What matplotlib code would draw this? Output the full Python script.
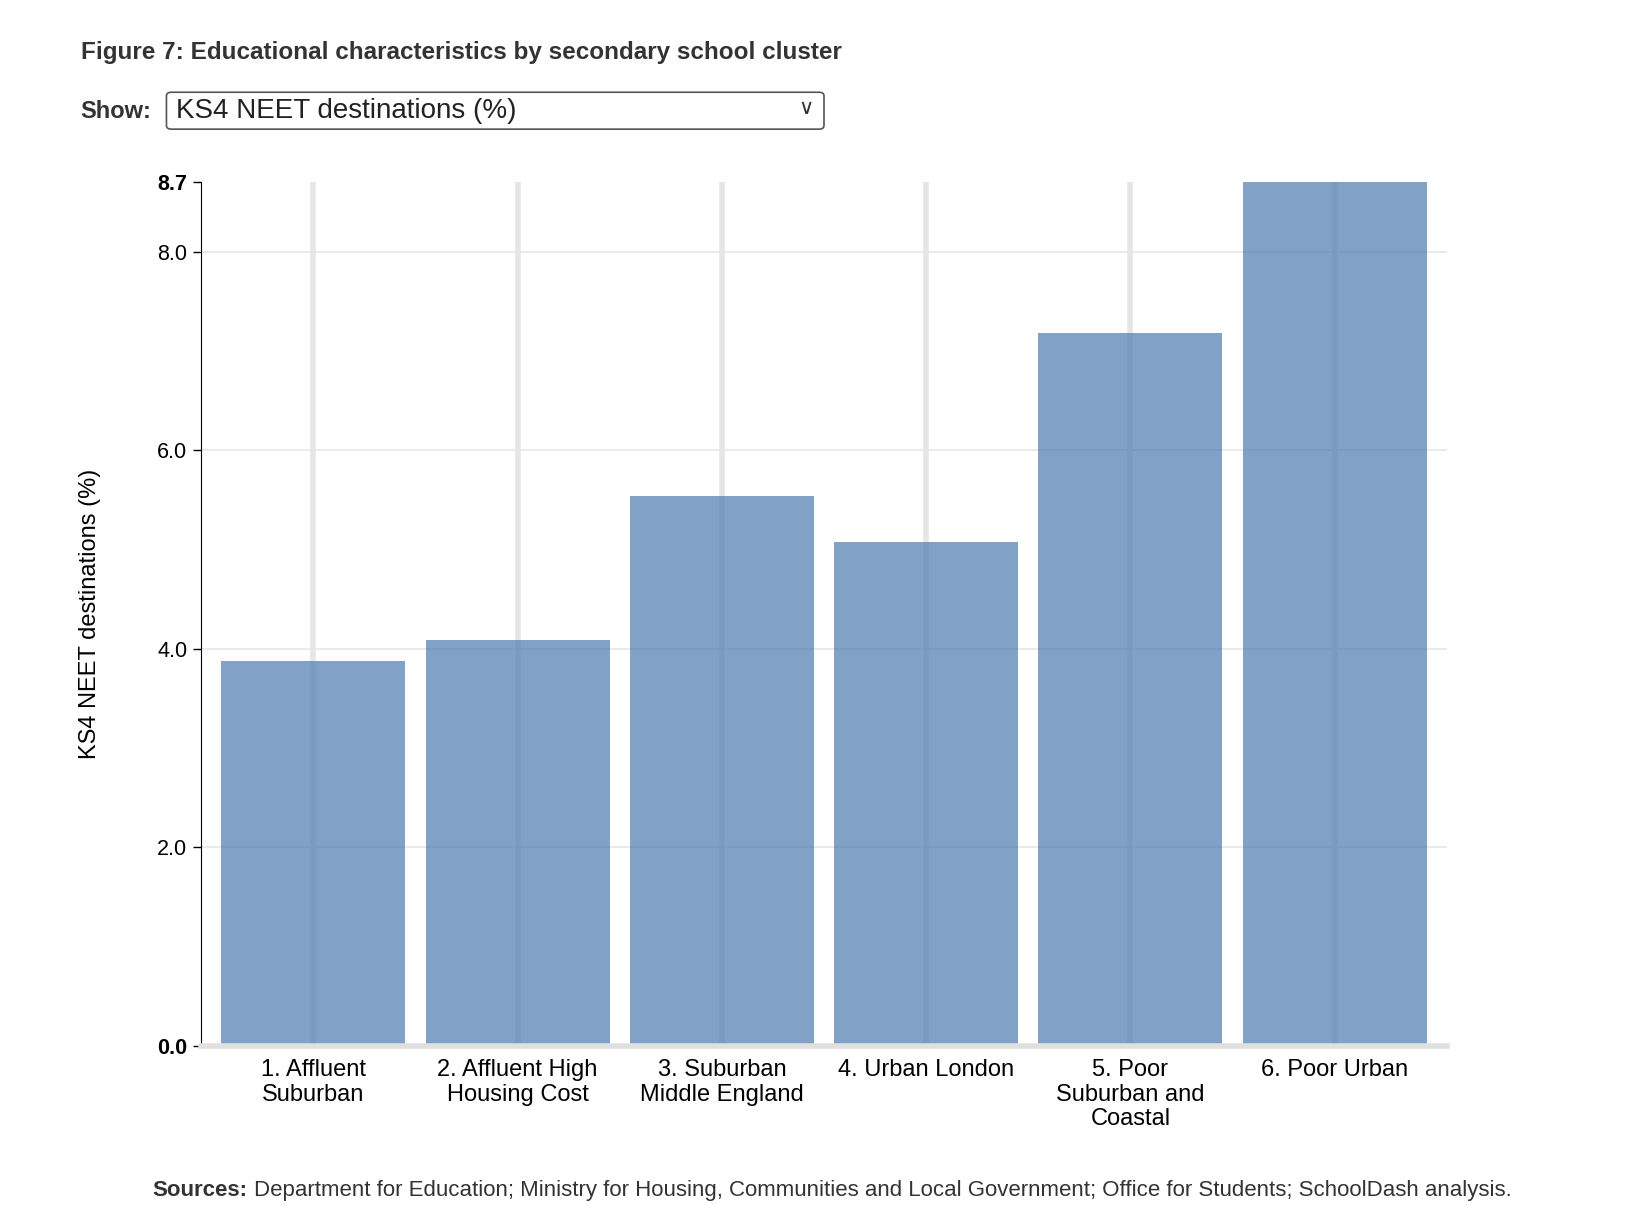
import matplotlib
matplotlib.use("Agg")
import matplotlib.pyplot as plt
from matplotlib.patches import FancyBboxPatch
from matplotlib.offsetbox import TextArea, HPacker, AnchoredOffsetbox

plt.rcParams['font.family'] = ['Liberation Sans', 'DejaVu Sans']

categories = ["1. Affluent\nSuburban", "2. Affluent High\nHousing Cost", "3. Suburban\nMiddle England",
              "4. Urban London", "5. Poor\nSuburban and\nCoastal", "6. Poor Urban"]
values = [3.87, 4.09, 5.54, 5.07, 7.18, 8.7]
yticks = [0.0, 2.0, 4.0, 6.0, 8.0, 8.7]

fig = plt.figure(figsize=(16.48, 12.3), dpi=100)
ax = fig.add_axes([0.122, 0.150, 0.756, 0.702])
x = list(range(len(categories)))
for xi in x:
    ax.axvline(xi, color='#e6e6e6', lw=4, zorder=0)
for yv in [2, 4, 6, 8]:
    ax.axhline(yv, color='#e6e6e6', lw=1.2, zorder=0)
ax.bar(x, values, width=0.9, color='#4C7AB0', alpha=0.7, zorder=2)
ax.set_xlim(-0.55, 5.55)
ax.set_ylim(0, 8.7)
ax.set_yticks(yticks)
ax.set_yticklabels([f"{v:.1f}" for v in yticks], fontsize=15.5)
for lab in ax.get_yticklabels():
    if lab.get_text() in ("0.0", "8.7"):
        lab.set_fontweight('bold')
ax.set_xticks(x)
ax.set_xticklabels(categories, fontsize=17, linespacing=1.15)
ax.tick_params(axis='x', length=0, pad=10)
ax.tick_params(axis='y', length=6, width=1, pad=4)
for s in ['top', 'right']:
    ax.spines[s].set_visible(False)
ax.spines['left'].set_color('black')
ax.spines['bottom'].set_color('#e0e0e0')
ax.spines['bottom'].set_linewidth(4)
ax.set_ylabel("KS4 NEET destinations (%)", fontsize=17, labelpad=40)

fig.text(0.049, 0.957, "Figure 7: Educational characteristics by secondary school cluster",
         fontsize=17.5, fontweight='bold', color='#333333', va='center')
fig.text(0.049, 0.909, "Show:", fontsize=17, fontweight='bold', color='#333333', va='center')
box = FancyBboxPatch((0.101, 0.895), 0.399, 0.030, boxstyle="round,pad=0,rounding_size=0.003",
                     transform=fig.transFigure, fill=False, edgecolor='#555555', lw=1.2)
fig.patches.append(box)
fig.text(0.107, 0.910, "KS4 NEET destinations (%)", fontsize=20, color='#222222', va='center')
fig.text(0.489, 0.912, "\u2228", fontsize=15, color='#333333', va='center', ha='center',
         family='DejaVu Sans', transform=fig.transFigure)

src = HPacker(children=[
    TextArea("Sources:", textprops=dict(fontsize=16, fontweight='bold', color='#333333')),
    TextArea("Department for Education; Ministry for Housing, Communities and Local Government; Office for Students; SchoolDash analysis.",
             textprops=dict(fontsize=16, color='#333333'))], pad=0, sep=5, align='baseline')
ab = AnchoredOffsetbox(loc='center', child=src, bbox_to_anchor=(0.505, 0.032),
                       bbox_transform=fig.transFigure, frameon=False, pad=0, borderpad=0)
fig.add_artist(ab)
fig.savefig("out.png", dpi=100)
